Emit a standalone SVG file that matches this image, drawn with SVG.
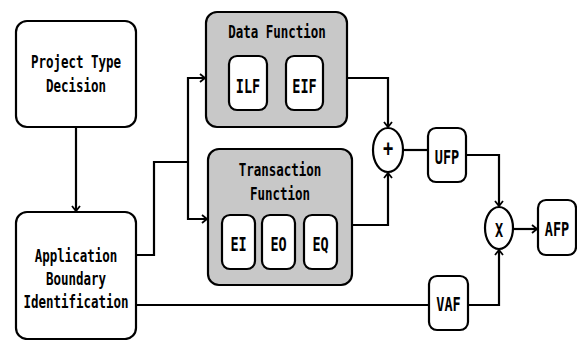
<svg xmlns="http://www.w3.org/2000/svg" width="577" height="340" viewBox="0 0 577 340">
<style>
.box{fill:#fff;stroke:#000;stroke-width:2.2}
.grp{fill:#c8c8c8;stroke:#000;stroke-width:2.2}
.ln{fill:none;stroke:#000;stroke-width:2.2}
text{font-family:"DejaVu Sans Mono","Liberation Mono",monospace;font-weight:bold;font-size:12.5px;text-anchor:middle;fill:#000}
.big{font-size:13.5px}
</style>
<defs>
<marker id="ah" markerWidth="10" markerHeight="10" refX="8" refY="5" orient="auto" markerUnits="userSpaceOnUse">
<path d="M3,1 L8,5 L3,9" fill="none" stroke="#000" stroke-width="1.8"/>
</marker>
</defs>
<rect width="577" height="340" fill="#fff"/>
<g id="connectors">
<path class="ln" d="M76,127 V211" marker-end="url(#ah)"/>
<path class="ln" d="M136,255 H154 V162 H188"/>
<path class="ln" d="M188,162 V78 H205" marker-end="url(#ah)"/>
<path class="ln" d="M188,162 V219 H207" marker-end="url(#ah)"/>
<path class="ln" d="M347,78 H388 V127" marker-end="url(#ah)"/>
<path class="ln" d="M352,225 H388 V173" marker-end="url(#ah)"/>
<path class="ln" d="M403,150 H428"/>
<path class="ln" d="M466,155 H499 V206" marker-end="url(#ah)"/>
<path class="ln" d="M513,229 H537" marker-end="url(#ah)"/>
<path class="ln" d="M136,305 H429"/>
<path class="ln" d="M468,305 H499 V250" marker-end="url(#ah)"/>
</g>
<g id="project">
<rect class="box" x="16" y="21" width="120" height="106" rx="11"/>
<text transform="translate(76,68) scale(1,1.38)">Project Type</text>
<text transform="translate(76,92) scale(1,1.38)">Decision</text>
</g>
<g id="application">
<rect class="box" x="16" y="212" width="120" height="127" rx="11"/>
<text transform="translate(76,262) scale(1,1.38)">Application</text>
<text transform="translate(76,285) scale(1,1.38)">Boundary</text>
<text transform="translate(76,308) scale(1,1.38)">Identification</text>
</g>
<g id="data-function">
<rect class="grp" x="206" y="12" width="141" height="115" rx="11"/>
<text transform="translate(277,38) scale(1,1.38)">Data Function</text>
<g id="ilf"><rect class="box" x="229" y="56" width="38" height="54" rx="8"/><text class="big" transform="translate(248,93) scale(1,1.38)">ILF</text></g>
<g id="eif"><rect class="box" x="286" y="56" width="37" height="54" rx="8"/><text class="big" transform="translate(304.5,93) scale(1,1.38)">EIF</text></g>
</g>
<g id="transaction-function">
<rect class="grp" x="208" y="149" width="144" height="136" rx="11"/>
<text transform="translate(280,176) scale(1,1.38)">Transaction</text>
<text transform="translate(280,200) scale(1,1.38)">Function</text>
<g id="ei"><rect class="box" x="222" y="215" width="33" height="54" rx="8"/><text class="big" transform="translate(238.5,251) scale(1,1.38)">EI</text></g>
<g id="eo"><rect class="box" x="262" y="215" width="33" height="54" rx="8"/><text class="big" transform="translate(278.5,251) scale(1,1.38)">EO</text></g>
<g id="eq"><rect class="box" x="304" y="215" width="33" height="54" rx="8"/><text class="big" transform="translate(320.5,251) scale(1,1.38)">EQ</text></g>
</g>
<g id="plus">
<ellipse class="box" cx="388" cy="150" rx="15" ry="22"/>
<text style="font-size:17px" transform="translate(388,156) scale(1,1.3)">+</text>
</g>
<g id="ufp">
<rect class="box" x="428" y="128" width="38" height="54" rx="8"/>
<text class="big" transform="translate(447,164) scale(1,1.38)">UFP</text>
</g>
<g id="times">
<ellipse class="box" cx="499" cy="228" rx="14" ry="21"/>
<text class="big" transform="translate(499,237) scale(1,1.38)">X</text>
</g>
<g id="afp">
<rect class="box" x="538" y="200" width="38" height="55" rx="8"/>
<text class="big" transform="translate(557,236) scale(1,1.38)">AFP</text>
</g>
<g id="vaf">
<rect class="box" x="429" y="276" width="39" height="54" rx="8"/>
<text class="big" transform="translate(448.5,311) scale(1,1.38)">VAF</text>
</g>
</svg>
